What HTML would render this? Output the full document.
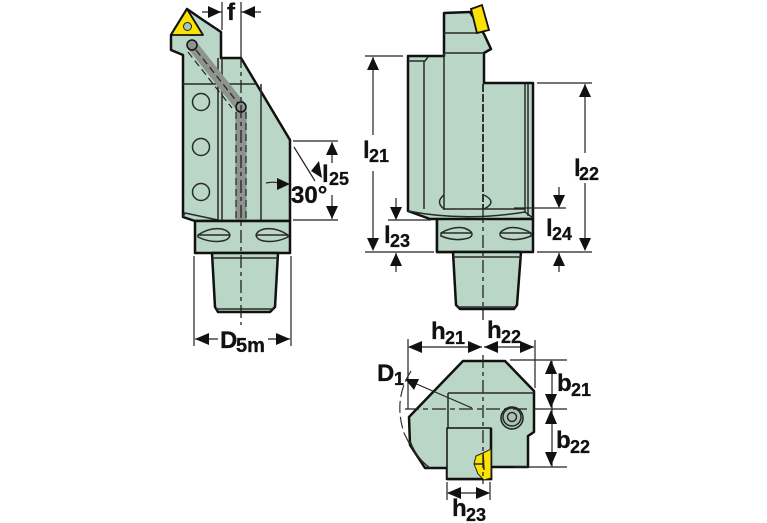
<!DOCTYPE html>
<html><head><meta charset="utf-8"><style>
html,body{margin:0;padding:0;background:#fff}
svg{display:block}
text{font-family:"Liberation Sans",sans-serif;font-weight:bold;fill:#111;stroke:#111;stroke-width:.3}
.m{font-size:24px}.s{font-size:18px}
.o{fill:#b9d6c6;stroke:#111;stroke-width:2.5;stroke-linejoin:round}
.t{fill:none;stroke:#222;stroke-width:1.2}
.i{fill:none;stroke:#2a2a2a;stroke-width:1.5}
.c{fill:none;stroke:#222;stroke-width:1.3;stroke-dasharray:13 4 4 4}
.a{fill:#111}
</style></head><body>
<svg width="767" height="523" viewBox="0 0 767 523" xmlns="http://www.w3.org/2000/svg">
<!-- LEFT VIEW -->
<path class="o" d="M171,35 L171,50 L183,55 L183,217 L195,221 L290,221 L290,140 L241,58 L221,58 L221,32 L203,20 L187,9 Z"/>
<path class="i" d="M183,84 H257 M218,58 V220 M222,58 V220 M261,84 V220 M183,217 L185,213 L218,220"/>
<circle class="i" cx="201" cy="102" r="8.5"/><circle class="i" cx="201" cy="147" r="8.5"/><circle class="i" cx="201" cy="192" r="8.5"/>
<path d="M192,45 L241,107 V220" fill="none" stroke="#8f9390" stroke-width="11"/>
<circle cx="192" cy="45" r="5" fill="#8f9390" stroke="#111" stroke-width="1.5"/>
<circle cx="241" cy="107" r="5" fill="#8f9390" stroke="#111" stroke-width="1.5"/>
<path d="M196,50 L238,103 M188,52 L232,108 M236,112 V220 M246,112 V220" fill="none" stroke="#222" stroke-width="1.2" stroke-dasharray="7 4"/>
<path d="M187,9 L171,35 H203 Z" fill="#fbe200" stroke="#111" stroke-width="1.8" stroke-linejoin="round"/>
<circle cx="187.500" cy="26.500" r="4" fill="#a9c6b6" stroke="#222"/>
<path class="o" d="M195,221 H290 V253 H195 Z"/>
<path class="o" d="M212,253 H278 L275,307 L270,312 H218 L215,307 Z"/>
<path class="i" d="M212,258 H278 M216,309 H274"/>
<path class="i" d="M198,235 Q210,227 222,229 Q229,231 230,235 Q229,240 222,241 Q210,243 198,237 Z M198,235 H230"/>
<path class="i" d="M288,235 Q276,227 264,229 Q257,231 256,235 Q257,240 264,241 Q276,243 288,237 Z M256,235 H288"/>
<path class="c" d="M241,55 V325"/>
<!-- f -->
<path class="t" d="M222,2 V30 M241,2 V55 M202,12 H222 M241,12 H261"/>
<path class="a" d="M221,12 L208,6 V18 Z M242,12 L255,6 V18 Z"/>
<text x="227" y="20" class="m">f</text>
<!-- l25 -->
<path class="t" d="M293,141 H338 M293,220 H338 M332,142 V163 M332,195 V219 M294,147 L315,181"/>
<path class="a" d="M332,142 L326,155 H338 Z M332,219 L326,206 H338 Z M319,161 L322,178 L311,171 Z"/>
<text x="322" y="182" class="m">l</text><text x="329" y="185" class="s">25</text>
<text x="291" y="203" class="m">30°</text>
<path class="t" d="M266,183 Q275,181 281,184"/>
<path class="a" d="M290,184 L277,178 V190 Z"/>
<!-- D5m -->
<path class="t" d="M194,256 V346 M291,256 V346 M195,339 H218 M268,339 H290"/>
<path class="a" d="M195,339 L209,333 V345 Z M290,339 L276,333 V345 Z"/>
<text x="220" y="348" class="m">D</text><text x="236" y="352" class="s" style="font-size:20px">5m</text>
<!-- MIDDLE VIEW -->
<path class="o" d="M408,56 H444 V13 L470,12 L484,34 L491,49 L484,53 V83 H533 V219 H521 V252 H437 V219 H430 L408,211 Z"/>
<path class="o" d="M437,219 H533 V252 H437 Z"/>
<path class="o" d="M453,252 H521 L517,305 L514,309 H460 L456,305 Z"/>
<path class="i" d="M453,257 H521 M457,307 H517"/>
<path class="i" d="M408,61 H425 L428,57 M424,61 V209 M444,53 V210 M444,33 H477 M444,53 H484 M525,84 V213 M528,84 V216 M408,211 Q465,222 525,212 L533,218 M444,209 H525"/>
<path class="i" d="M444,195 Q435,202 444,209 M484,195 Q498,202 484,209"/>
<path class="i" d="M441,233 Q453,226 464,228 Q472,231 472,234 Q472,238 464,239 Q453,241 441,236 Z M441,233 H472"/>
<path class="i" d="M531,233 Q519,226 508,228 Q500,231 500,234 Q500,238 508,239 Q519,241 531,236 Z M500,233 H531"/>
<path d="M471,9 L482,5 L489,30 L477,33 Z" fill="#fbe200" stroke="#111" stroke-width="1.8"/>
<path d="M483,84 V210" fill="none" stroke="#222" stroke-width="1.8" stroke-dasharray="8 2"/>
<path class="c" d="M483,210 V320"/>
<path class="t" d="M365,56 H403 M537,83 H592 M365,252 H434 M537,252 H592 M514,208 H566 M388,220 H431"/>
<path class="t" d="M373,57 V135 M373,171 V240 M585,84 V153 M585,183 V250"/>
<path class="a" d="M373,57 L367,70 H379 Z M373,251 L367,238 H379 Z M585,84 L579,97 H591 Z M585,251 L579,238 H591 Z"/>
<path class="t" d="M396,198 V219 M396,253 V272 M559,187 V207 M559,253 V272"/>
<path class="a" d="M396,220 L390,207 H402 Z M396,253 L390,266 H402 Z M559,208 L553,195 H565 Z M559,253 L553,266 H565 Z"/>
<text x="363" y="158" class="m">l</text><text x="369" y="162" class="s">21</text>
<text x="574" y="176" class="m">l</text><text x="579" y="180" class="s">22</text>
<text x="384" y="243" class="m">l</text><text x="390" y="247" class="s">23</text>
<text x="546" y="236" class="m">l</text><text x="552" y="240" class="s">24</text>
<!-- BOTTOM VIEW -->
<path class="o" d="M463,361 H505 L534,391 V432 L528,436 V467 H491 V479 H447 V468 H425 L410,445 L409,417 Z"/>
<path class="i" d="M448,393 H534 M448,393 V428 M410,441 Q416,458 430,468"/>
<path class="o" d="M447,428 H491 V479 H447 Z" style="stroke-width:1.5"/>
<path d="M447,479 H491 V428" fill="none" stroke="#111" stroke-width="2.5"/>
<circle cx="512" cy="418" r="11" fill="#a8c4b4" stroke="#222" stroke-width="1.5"/>
<circle cx="512" cy="417" r="9" class="i"/>
<circle cx="512" cy="417" r="4.500" class="i"/>
<path d="M476,456 L483,453 L491,449 V478 L484,480 L478,474 L474,464 Z" fill="#fbe200" stroke="#222" stroke-width="1"/>
<path class="i" d="M483,453 L484,470 M474,464 H484"/>
<path class="c" d="M483,355 V484"/>
<path d="M405,409 H531" fill="none" stroke="#222" stroke-width="1.2" stroke-dasharray="14 4 5 4"/>
<path class="t" d="M408,339 V409 M535,340 V388 M510,360 H567 M533,409 H567 M514,467 H567"/>
<path class="t" d="M409,347 H482 M484,347 H534 M552,361 V467"/>
<path class="a" d="M408,347 L422,341 V353 Z M482,347 L468,341 V353 Z M484,347 L498,341 V353 Z M534,347 L520,341 V353 Z"/>
<path class="a" d="M551,360 L545,374 H557 Z M551,408 L545,394 H557 Z M551,410 L545,424 H557 Z M551,466 L545,452 H557 Z"/>
<path class="t" d="M472,408 L412,382"/>
<path class="a" d="M405,379 L419,379 L414,390 Z"/>
<path d="M411,371 Q393,399 404,433 L410,445" fill="none" stroke="#333" stroke-width="1.2" stroke-dasharray="12 4"/>
<path class="t" d="M447,482 V500 M490,482 V500 M448,493 H489"/>
<path class="a" d="M447,493 L461,487 V499 Z M490,493 L476,487 V499 Z"/>
<text x="377" y="381" class="m">D</text><text x="394" y="385" class="s">1</text>
<text x="431" y="339" class="m">h</text><text x="445" y="344" class="s">21</text>
<text x="487" y="338" class="m">h</text><text x="501" y="343" class="s">22</text>
<text x="557" y="391" class="m">b</text><text x="571" y="396" class="s">21</text>
<text x="556" y="448" class="m">b</text><text x="570" y="453" class="s">22</text>
<text x="452" y="516" class="m">h</text><text x="466" y="521" class="s">23</text>
</svg>
</body></html>
